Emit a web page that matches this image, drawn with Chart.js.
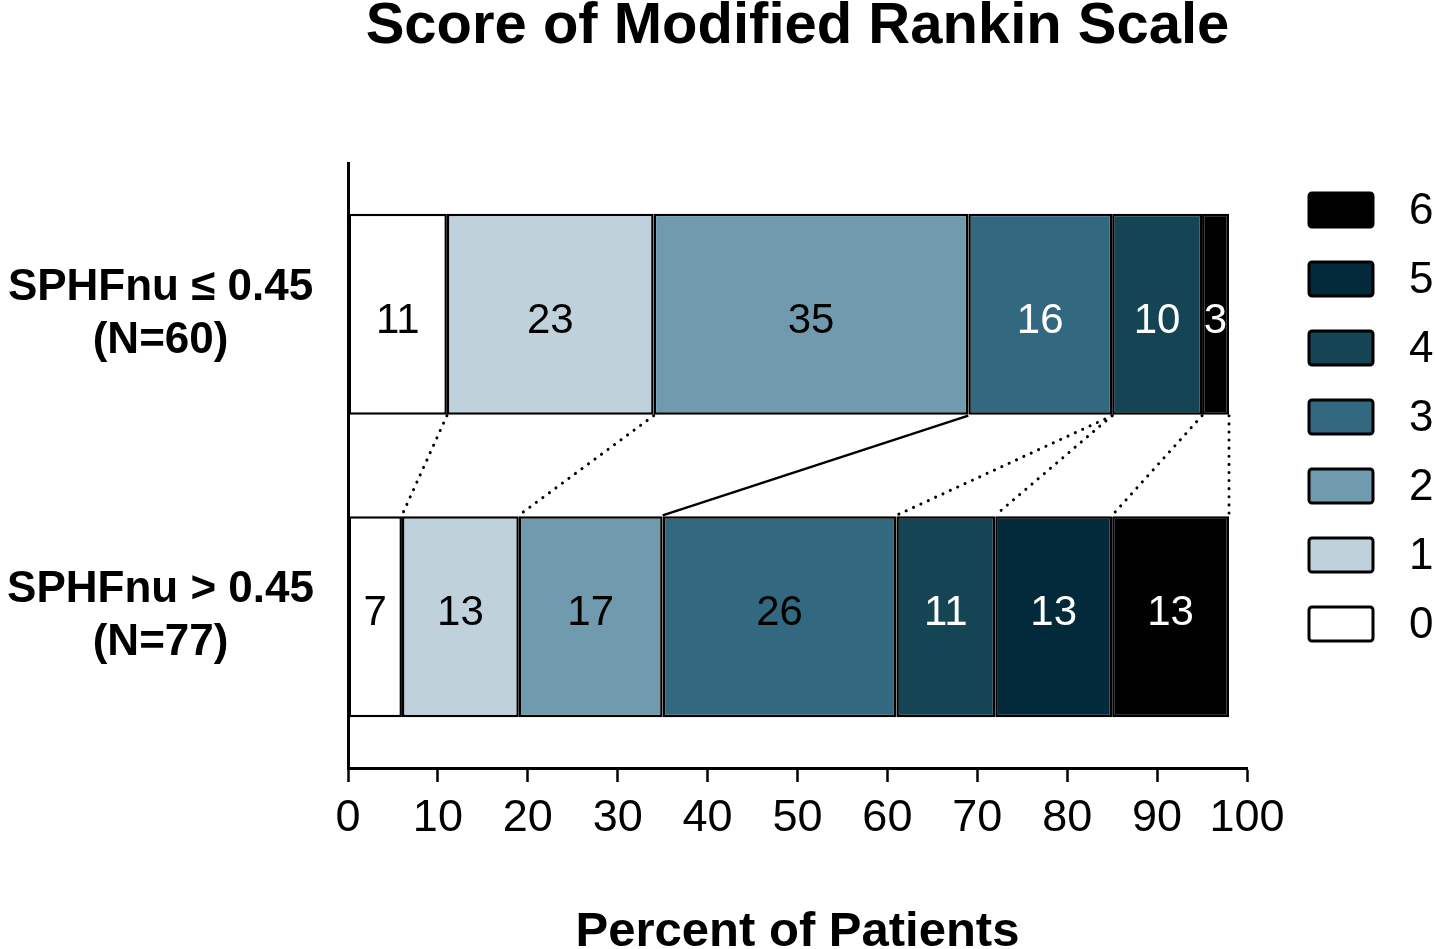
<!DOCTYPE html>
<html><head><meta charset="utf-8">
<script src="https://cdn.jsdelivr.net/npm/chart.js@4/dist/chart.umd.min.js"></script>
<style>html,body{margin:0;padding:0;background:#fff}#wrap{width:1435px;height:949px;position:relative}</style>
</head><body><div id="wrap"><canvas id="c"></canvas></div>
<script>
const chartTitle = "Score of Modified Rankin Scale";
const xTitle = "Percent of Patients";
const groups = [["SPHFnu \u2264 0.45", "(N=60)"], ["SPHFnu > 0.45", "(N=77)"]];
const scores = ["0", "1", "2", "3", "4", "5", "6"];
// bar lengths (percent of patients) per score, group 1 then group 2
const lowGroup  = [11, 23, 35, 16, 10, 0, 3];
const highGroup = [6, 13, 16, 26, 11, 13, 13];
// numbers printed inside the segments
const lowLabels  = ["11", "23", "35", "16", "10", "", "3"];
const highLabels = ["7", "13", "17", "26", "11", "13", "13"];
const xTicks = [0, 10, 20, 30, 40, 50, 60, 70, 80, 90, 100];
// connector lines join the end of segment topEnd[k] (upper bar) to the end of segment k (lower bar)
const connectorTopEnd = [0, 1, 2, 3, 3, 4, 6];
const connectorSolid = [false, false, true, false, false, false, false];

const fills = ["#ffffff", "#bfd2db", "#709aad", "#336980", "#154455", "#032a3a", "#000000"];
const textCols = [["#000", "#000"], ["#000", "#000"], ["#000", "#000"], ["#fff", "#000"], ["#fff", "#fff"], ["#fff", "#fff"], ["#fff", "#fff"]];
const textDy = [7, -3];

const FONT = "'Liberation Sans', Arial, sans-serif";

const datasets = scores.map((s, i) => ({
  label: s,
  data: [lowGroup[i], highGroup[i]],
  printed: [lowLabels[i], highLabels[i]],
  textColor: textCols[i],
  backgroundColor: fills[i],
  borderColor: "#000",
  borderWidth: 2.5,
  borderSkipped: false,
  categoryPercentage: 0.664,
  barPercentage: 1.0
}));

function cumulative(arr) { let s = 0; return arr.map(v => (s += v)); }

const decor = {
  id: "decor",
  afterDatasetsDraw(chart) {
    const ctx = chart.ctx;
    const xs = chart.scales.x, ys = chart.scales.y;
    const area = chart.chartArea;
    ctx.save();
    // connectors between bars
    const th = chart.getDatasetMeta(0).data[0].height;
    const yTopBottom = ys.getPixelForValue(0) + th / 2;
    const yBotTop = ys.getPixelForValue(1) - th / 2;
    const cumLow = cumulative(lowGroup), cumHigh = cumulative(highGroup);
    scores.forEach((s, k) => {
      const x1 = xs.getPixelForValue(cumLow[connectorTopEnd[k]]);
      const x2 = xs.getPixelForValue(cumHigh[k]);
      ctx.beginPath();
      ctx.strokeStyle = "#000";
      if (connectorSolid[k]) { ctx.setLineDash([]); ctx.lineWidth = 2.5; ctx.lineCap = "butt"; }
      else { ctx.setLineDash([0.1, 8]); ctx.lineWidth = 3; ctx.lineCap = "round"; }
      ctx.moveTo(x1, yTopBottom + 1);
      ctx.lineTo(x2, yBotTop - 1);
      ctx.stroke();
    });
    ctx.setLineDash([]);
    // segment labels
    ctx.font = "42px " + FONT;
    ctx.textAlign = "center";
    ctx.textBaseline = "middle";
    chart.data.datasets.forEach((ds, di) => {
      const meta = chart.getDatasetMeta(di);
      meta.data.forEach((el, j) => {
        const txt = ds.printed[j];
        if (!txt) return;
        const p = el.getProps(["x", "y", "base"], true);
        ctx.fillStyle = ds.textColor[j];
        ctx.fillText(txt, (p.x + p.base) / 2, p.y + textDy[j]);
      });
    });
    // titles
    const cx = (area.left + area.right) / 2;
    ctx.fillStyle = "#000";
    ctx.textBaseline = "alphabetic";
    ctx.font = "bold 58px " + FONT;
    ctx.fillText(chartTitle, cx, 43);
    ctx.font = "bold 49px " + FONT;
    ctx.fillText(xTitle, cx, 946);
    // legend
    const lx = area.right + 62;
    const ly0 = area.top + 47;
    ctx.font = "44px " + FONT;
    ctx.textAlign = "left";
    ctx.textBaseline = "middle";
    for (let k = 0; k < scores.length; k++) {
      const i = scores.length - 1 - k;
      const yc = ly0 + k * 69;
      ctx.beginPath();
      ctx.roundRect(lx, yc - 17, 64, 34, 3);
      ctx.fillStyle = fills[i];
      ctx.fill();
      ctx.lineWidth = 3;
      ctx.strokeStyle = "#000";
      ctx.stroke();
      ctx.fillStyle = "#000";
      ctx.fillText(scores[i], lx + 100, yc + 2);
    }
    ctx.restore();
  }
};

new Chart(document.getElementById("c"), {
  type: "bar",
  data: { labels: groups, datasets },
  options: {
    indexAxis: "y",
    responsive: true,
    maintainAspectRatio: false,
    animation: false,
    events: [],
    layout: { padding: { top: 163, right: 188, bottom: 0, left: 0 } },
    plugins: { legend: { display: false }, title: { display: false }, tooltip: { enabled: false } },
    scales: {
      x: {
        stacked: true,
        min: 0, max: 100,
        afterBuildTicks: (s) => { s.ticks = xTicks.map(v => ({ value: v })); },
        afterFit: (s) => { s.height = 181; },
        border: { display: true, color: "#000", width: 3 },
        grid: { display: true, drawOnChartArea: false, drawTicks: true, tickLength: 14, tickWidth: 2.5, tickColor: "#000" },
        ticks: { color: "#000", font: { family: FONT, size: 45 }, padding: 10, maxRotation: 0, autoSkip: false }
      },
      y: {
        stacked: true,
        afterFit: (s) => { s.width = 348; },
        border: { display: true, color: "#000", width: 3 },
        grid: { display: false, drawTicks: false },
        ticks: { color: "#000", font: { family: FONT, size: 44, weight: "bold", lineHeight: 1.2 }, crossAlign: "center", padding: 34 }
      }
    }
  },
  plugins: [decor]
});
</script>
</body></html>
